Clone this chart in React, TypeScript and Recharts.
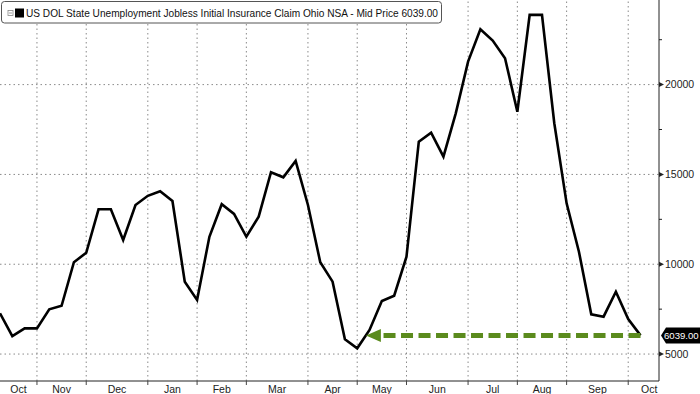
import { LineChart, Line, XAxis, YAxis, CartesianGrid, ReferenceLine } from "recharts";

// weekly, week ending (Saturday)
const weekEnding = [
  "2017-10-14", "2017-10-21", "2017-10-28",
  "2017-11-04", "2017-11-11", "2017-11-18", "2017-11-25",
  "2017-12-02", "2017-12-09", "2017-12-16", "2017-12-23", "2017-12-30",
  "2018-01-06", "2018-01-13", "2018-01-20", "2018-01-27",
  "2018-02-03", "2018-02-10", "2018-02-17", "2018-02-24",
  "2018-03-03", "2018-03-10", "2018-03-17", "2018-03-24", "2018-03-31",
  "2018-04-07", "2018-04-14", "2018-04-21", "2018-04-28",
  "2018-05-05", "2018-05-12", "2018-05-19", "2018-05-26",
  "2018-06-02", "2018-06-09", "2018-06-16", "2018-06-23", "2018-06-30",
  "2018-07-07", "2018-07-14", "2018-07-21", "2018-07-28",
  "2018-08-04", "2018-08-11", "2018-08-18", "2018-08-25",
  "2018-09-01", "2018-09-08", "2018-09-15", "2018-09-22", "2018-09-29",
  "2018-10-06", "2018-10-13",
];

const claims = [
  7270, 6000, 6430, 6430, 7490, 7690, 10110, 10640, 13060, 13060,
  11350, 13300, 13810, 14060, 13520, 9030, 8010, 11530, 13340, 12800,
  11530, 12650, 15120, 14840, 15750, 13300, 10110, 9030, 5820, 5320,
  6340, 7950, 8250, 10420, 16820, 17320, 15990, 18400, 21280, 23080,
  22450, 21470, 18490, 23880, 23880, 17850, 13390, 10700, 7210, 7080,
  8470, 6950, 6039,
];

const monthLabels = ["Oct", "Nov", "Dec", "Jan", "Feb", "Mar", "Apr", "May", "Jun", "Jul", "Aug", "Sep", "Oct"];
const yTicks = [5000, 7500, 10000, 12500, 15000, 17500, 20000, 22500];
const yGrid = [5000, 10000, 15000, 20000];

const TITLE = "US DOL State Unemployment Jobless Initial Insurance Claim Ohio NSA - Mid Price 6039.00";
const FONT = "'Liberation Sans', Arial, sans-serif";
const GREEN = "#5b8b1d";
const GRID = "#8a8a8a";
const X_MAX = 53.5;
const Y_DOMAIN: [number, number] = [3500, 24710];

const data = claims.map((v, i) => ({ i, date: weekEnding[i], v }));

// first week of each month -> tick marks / vertical grid
const monthStarts = weekEnding
  .map((d, i) => (i > 0 && d.slice(5, 7) !== weekEnding[i - 1].slice(5, 7) ? i : -1))
  .filter((i) => i > 0);
const bounds = [0, ...monthStarts, X_MAX + 0.9];
const labelPos = monthLabels.map((_, k) => (bounds[k] + bounds[k + 1]) / 2);
const xTicks = [...monthStarts, ...labelPos].sort((a, b) => a - b);

const last = claims[claims.length - 1];
// where the series last crossed the current level (arrow tip)
let tip = 0;
for (let i = claims.length - 2; i >= 0; i--) {
  if (claims[i] < last && claims[i + 1] >= last) {
    tip = i + (last - claims[i]) / (claims[i + 1] - claims[i]);
    break;
  }
}

const XTick = (props: any) => {
  const { x, y, payload } = props;
  const k = labelPos.indexOf(payload.value);
  if (k < 0) {
    return <line x1={x} x2={x} y1={y} y2={y + 4} stroke="#444" />;
  }
  return (
    <text x={x} y={y + 4} dy="0.74em" textAnchor="middle" fontSize={10.5} fill="#222" fontFamily={FONT}>
      {monthLabels[k]}
    </text>
  );
};

const YTick = (props: any) => {
  const { x, y, payload } = props;
  if (payload.value % 5000 !== 0) {
    return <line x1={x} x2={x + 3} y1={y} y2={y} stroke="#222" />;
  }
  return (
    <g>
      <path d={`M${x},${y - 2.5}L${x + 5},${y}L${x},${y + 2.5}Z`} fill="#222" />
      <text x={x + 6} y={y} dy="0.36em" fontSize={10.5} fill="#222" fontFamily={FONT}>
        {payload.value}
      </text>
    </g>
  );
};

const ArrowShape = (props: any) => {
  const { x1, y1, x2 } = props;
  const left = Math.min(x1, x2);
  const right = Math.max(x1, x2);
  return (
    <g>
      <line x1={right} y1={y1} x2={left + 14} y2={y1} stroke={GREEN} strokeWidth={5} strokeDasharray="12 5.5" />
      <path d={`M${left},${y1}L${left + 15},${y1 - 6.5}L${left + 15},${y1 + 6.5}Z`} fill={GREEN} />
    </g>
  );
};

const PriceTag = (props: any) => {
  const { x1, x2, y1 } = props;
  const x = Math.max(x1, x2) + 2;
  return (
    <g>
      <path d={`M${x},${y1}L${x + 5},${y1 - 8}H700V${y1 + 8}H${x + 5}Z`} fill="#000" />
      <text x={x + 3} y={y1} dy="0.36em" fontSize={9.6} fill="#fff" fontFamily={FONT}>
        {last.toFixed(2)}
      </text>
    </g>
  );
};

export default function App() {
  return (
    <div style={{ position: "absolute", left: 0, top: 0, width: 700, height: 394, background: "#fff" }}>
      <LineChart width={700} height={394} data={data} margin={{ top: 0, right: 0, bottom: 0, left: 0 }}>
        <CartesianGrid horizontalValues={yGrid} vertical={false} stroke={GRID} strokeDasharray="1.5 3" />
        {monthStarts.map((m) => (
          <ReferenceLine key={m} x={m} stroke={GRID} strokeDasharray="1.5 3" />
        ))}
        <XAxis
          dataKey="i"
          type="number"
          domain={[0, X_MAX]}
          ticks={xTicks}
          interval={0}
          height={13}
          tickSize={0}
          tickMargin={0}
          tickLine={false}
          axisLine={{ stroke: "#222" }}
          tick={XTick}
        />
        <YAxis
          orientation="right"
          width={41}
          domain={Y_DOMAIN}
          ticks={yTicks}
          interval={0}
          tickSize={0}
          tickMargin={0}
          tickLine={false}
          axisLine={{ stroke: "#222" }}
          tick={YTick}
        />
        <Line
          dataKey="v"
          type="linear"
          stroke="#000"
          strokeWidth={2.6}
          strokeLinejoin="miter"
          dot={false}
          activeDot={false}
          isAnimationActive={false}
        />
        <ReferenceLine
          segment={[{ x: tip, y: last }, { x: claims.length - 1, y: last }]}
          shape={ArrowShape}
        />
        <ReferenceLine y={last} shape={PriceTag} />
      </LineChart>
      <svg width={660} height={28} style={{ position: "absolute", left: 0, top: 0, pointerEvents: "none" }}>
        <rect x={1.5} y={1.5} width={440} height={21.5} rx={3} fill="#fff" stroke="#555" />
        <rect x={8} y={10.5} width={5} height={5} fill="#fff" stroke="#888" strokeWidth={0.8} />
        <line x1={9} x2={12} y1={13} y2={13} stroke="#888" strokeWidth={0.8} />
        <rect x={15} y={8.5} width={9} height={9} fill="#000" />
        <text x={26} y={17} fontSize={11.5} fill="#111" fontFamily={FONT} textLength={412} lengthAdjust="spacingAndGlyphs">
          {TITLE}
        </text>
      </svg>
    </div>
  );
}
